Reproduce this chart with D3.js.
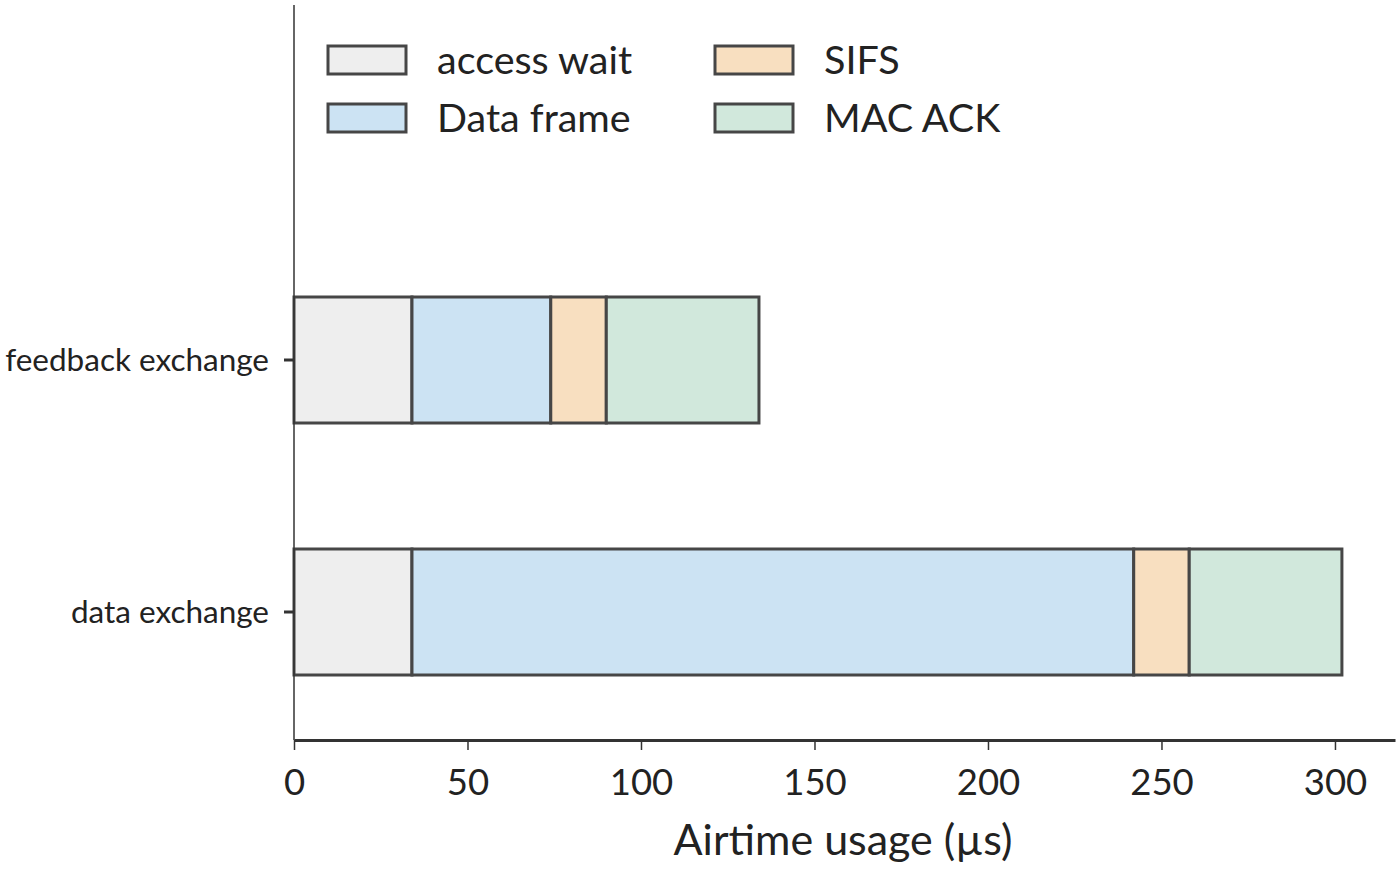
<!DOCTYPE html>
<html><head><meta charset="utf-8">
<script src="https://cdn.jsdelivr.net/npm/d3@7"></script>
<style>body{margin:0;background:#fff;} svg{font-family:Lato,"Noto Sans",sans-serif;}</style>
</head><body><svg id="c" width="1400" height="870"></svg>
<script>
const categories = ["feedback exchange", "data exchange"];
const seriesNames = ["access wait", "Data frame", "SIFS", "MAC ACK"];
const accessWait = [34, 34];
const dataFrame = [40, 208];
const sifs = [16, 16];
const macAck = [44, 44];
const xTicks = [0, 50, 100, 150, 200, 250, 300];
const colors = ["#eeeeee", "#cce3f3", "#f8dfc0", "#d1e8dc"];

const svg = d3.select("#c");
const x = d3.scaleLinear().domain([0, 317.3]).range([294, 1395]);
const yc = d3.scalePoint().domain(categories).range([360, 612]);
const barH = 126;

const series = [accessWait, dataFrame, sifs, macAck];
const rows = categories.map((c, i) => {
  let acc = 0;
  return series.map((s, k) => { const seg = {cat: c, k, x0: acc, x1: acc + s[i]}; acc += s[i]; return seg; });
}).flat();

svg.append("g").selectAll("rect").data(rows).join("rect")
  .attr("x", d => x(d.x0)).attr("width", d => x(d.x1) - x(d.x0))
  .attr("y", d => yc(d.cat) - barH / 2).attr("height", barH)
  .attr("fill", d => colors[d.k]).attr("stroke", "#464646").attr("stroke-width", 3);

// y axis
svg.append("line").attr("x1", 294).attr("x2", 294).attr("y1", 5).attr("y2", 740)
  .attr("stroke", "#333").attr("stroke-width", 1.5);
svg.append("g").selectAll("line").data(categories).join("line")
  .attr("x1", 284).attr("x2", 294).attr("y1", d => yc(d)).attr("y2", d => yc(d))
  .attr("stroke", "#333").attr("stroke-width", 3);
svg.append("g").selectAll("text").data(categories).join("text")
  .attr("x", 269).attr("y", d => yc(d)).attr("dy", "0.35em").attr("text-anchor", "end")
  .attr("font-size", 31.5).attr("fill", "#222").text(d => d);

// x axis
const xa = svg.append("g").attr("transform", "translate(0,740)")
  .call(d3.axisBottom(x).tickValues(xTicks).tickSize(10).tickPadding(19).tickSizeOuter(0));
xa.select(".domain").attr("stroke", "#333").attr("stroke-width", 3);
xa.selectAll(".tick line").attr("stroke", "#333").attr("stroke-width", 1.5);
xa.selectAll(".tick text").attr("font-size", 36.5).attr("fill", "#222").attr("font-family", "Lato,'Noto Sans',sans-serif");
svg.append("text").attr("x", 843).attr("y", 855).attr("text-anchor", "middle")
  .attr("font-size", 43).attr("fill", "#222").text("Airtime usage (µs)");

// legend
const legPos = [[328, 46], [328, 104], [715, 46], [715, 104]];
const lg = svg.append("g").selectAll("g").data(seriesNames).join("g")
  .attr("transform", (d, i) => `translate(${legPos[i][0]},${legPos[i][1]})`);
lg.append("rect").attr("width", 78).attr("height", 28).attr("fill", (d, i) => colors[i])
  .attr("stroke", "#464646").attr("stroke-width", 3);
lg.append("text").attr("x", 109).attr("y", 14).attr("dy", "0.36em").attr("font-size", 39.5)
  .attr("fill", "#222").text(d => d);
</script></body></html>
